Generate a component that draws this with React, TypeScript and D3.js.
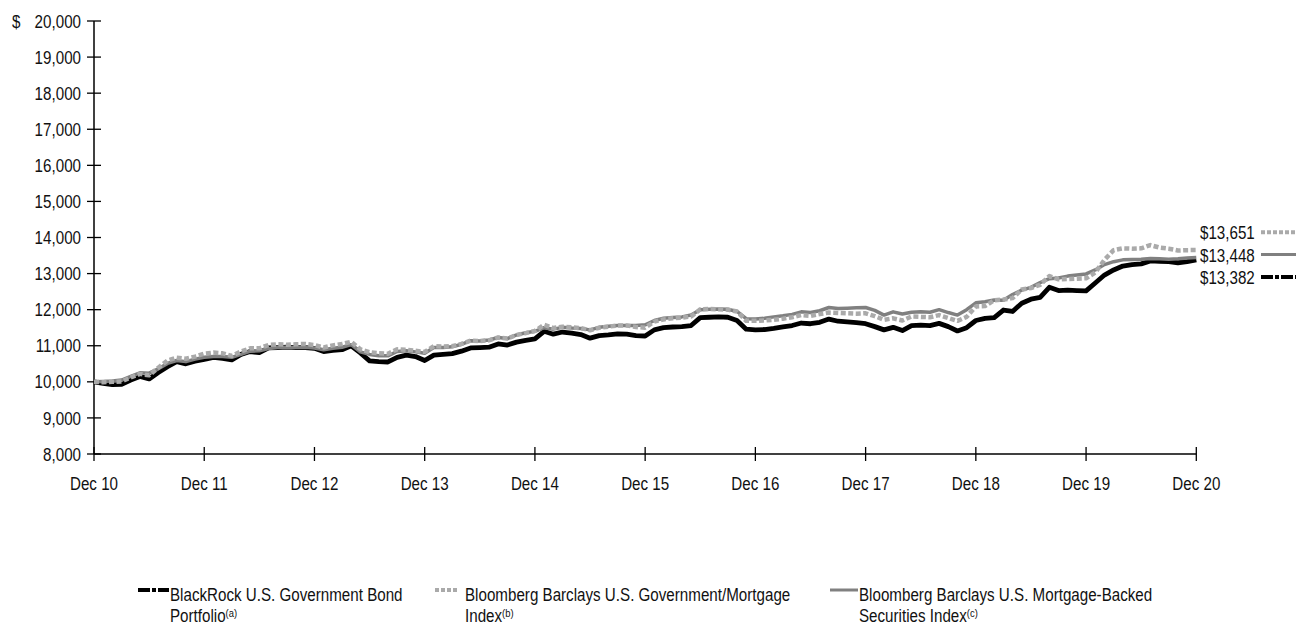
import React from "react";
import * as d3 from "d3";

// Growth of a hypothetical $10,000 investment, month-end values Dec 2010 – Dec 2020
const months: number[] = d3.range(0, 121);
const yearTicks: number[] = [0, 12, 24, 36, 48, 60, 72, 84, 96, 108, 120];
const yearLabels: string[] = ["Dec 10", "Dec 11", "Dec 12", "Dec 13", "Dec 14", "Dec 15", "Dec 16", "Dec 17", "Dec 18", "Dec 19", "Dec 20"];
const valueTicks: number[] = [8000, 9000, 10000, 11000, 12000, 13000, 14000, 15000, 16000, 17000, 18000, 19000, 20000];

const portfolio: number[] = [
  10000, 9960, 9920, 9930, 10050, 10150, 10080, 10260, 10420, 10560, 10500, 10570,
  10620, 10680, 10650, 10610, 10760, 10840, 10810, 10940, 10950, 10960, 10950, 10950,
  10930, 10840, 10870, 10890, 11000, 10800, 10580, 10560, 10550, 10680, 10740, 10700,
  10590, 10740, 10760, 10780, 10850, 10940, 10950, 10960, 11050, 11020, 11100, 11150,
  11190, 11400, 11320, 11380, 11350, 11310, 11210, 11280, 11300, 11330, 11320, 11280,
  11270, 11440, 11500, 11520, 11530, 11560, 11780, 11790, 11800, 11790, 11700, 11460,
  11440, 11450, 11480, 11520, 11560, 11630, 11610, 11650, 11740, 11680, 11660, 11640,
  11610, 11530, 11440, 11510, 11420, 11560, 11570, 11560, 11620, 11530, 11410, 11500,
  11700, 11760, 11780, 11990, 11950, 12180, 12290, 12340, 12620, 12530, 12540, 12530,
  12520, 12740, 12960, 13100, 13210, 13250, 13270, 13350, 13340, 13330, 13300, 13330,
  13382,
];

const govMortgage: number[] = [
  10000, 9990, 10000, 10010, 10120, 10220, 10180, 10390, 10590, 10670, 10640, 10700,
  10780, 10810, 10790, 10720, 10840, 10930, 10930, 11020, 11040, 11030, 11040, 11050,
  11020, 10950, 11010, 11050, 11110, 10900, 10820, 10790, 10780, 10900, 10890, 10860,
  10830, 10990, 10980, 10990, 11050, 11140, 11130, 11150, 11230, 11200, 11300, 11350,
  11410, 11580, 11490, 11530, 11510, 11490, 11430, 11500, 11530, 11560, 11560, 11520,
  11500, 11670, 11730, 11760, 11780, 11810, 12010, 12020, 12010, 12000, 11950, 11690,
  11690, 11700, 11720, 11750, 11790, 11850, 11830, 11880, 11920, 11910, 11900, 11890,
  11900, 11820, 11720, 11760, 11700, 11810, 11800, 11790, 11850, 11770, 11690, 11800,
  12090, 12100, 12260, 12280, 12320, 12560, 12600, 12690, 12930, 12840, 12850, 12860,
  12870, 13030, 13380, 13650, 13700, 13690, 13700, 13790, 13720, 13690, 13640, 13650,
  13651,
];

const mortgageBacked: number[] = [
  10000, 10010, 10020, 10050, 10150, 10250, 10240, 10360, 10510, 10590, 10560, 10630,
  10680, 10700, 10700, 10680, 10760, 10850, 10860, 10920, 10950, 10960, 10950, 10960,
  10940, 10890, 10930, 10960, 11030, 10830, 10760, 10720, 10720, 10840, 10860, 10830,
  10790, 10950, 10950, 10970, 11040, 11140, 11130, 11160, 11230, 11200, 11300, 11360,
  11400, 11500, 11460, 11510, 11490, 11480, 11440, 11510, 11540, 11560, 11560, 11560,
  11580, 11700, 11760, 11780, 11800, 11850, 12000, 12010, 12020, 12010, 11950, 11750,
  11740, 11760, 11800, 11830, 11870, 11940, 11920, 11970, 12060, 12030, 12040, 12050,
  12060, 11980, 11850, 11940, 11880, 11930, 11940, 11930, 12000, 11920, 11850, 12000,
  12190, 12220, 12270, 12260, 12420, 12540, 12620, 12750, 12860, 12880, 12930, 12960,
  12990, 13100, 13250, 13330, 13380, 13390, 13400, 13420, 13410, 13400, 13410, 13430,
  13448,
];

const endLabels: string[] = ["$13,651", "$13,448", "$13,382"];
const legendNames: string[][] = [
  ["BlackRock U.S. Government Bond", "Portfolio", "(a)"],
  ["Bloomberg Barclays U.S. Government/Mortgage", "Index", "(b)"],
  ["Bloomberg Barclays U.S. Mortgage-Backed", "Securities Index", "(c)"],
];

const FONT = "'Liberation Sans', Arial, sans-serif";
const FS = 18.5;
const NARROW = 0.82; // condensed glyph width

const BLACK = "#000000";
const TEXT = "#111111";
const MID_GRAY = "#808080";
const LIGHT_GRAY = "#aaaaaa";

// Condensed text drawn with a horizontal scale around its anchor point
function T(props: { x: number; y: number; anchor?: string; children: React.ReactNode }) {
  return (
    <text
      transform={`translate(${props.x},${props.y}) scale(${NARROW},1)`}
      textAnchor={props.anchor ?? "start"}
      fill={TEXT}
    >
      {props.children}
    </text>
  );
}

export default function App() {
  const W = 1296;
  const H = 627;
  const x = d3.scaleLinear().domain([0, 120]).range([94, 1196.3]);
  const y = d3.scaleLinear().domain([8000, 20000]).range([454, 21]);

  const line = d3
    .line<number>()
    .x((_, i) => x(months[i]))
    .y((v) => y(v));

  const seriesStyle = [
    { data: portfolio, stroke: BLACK, width: 4.8, dash: undefined as string | undefined },
    { data: mortgageBacked, stroke: MID_GRAY, width: 3.5, dash: undefined as string | undefined },
    { data: govMortgage, stroke: LIGHT_GRAY, width: 4.5, dash: "5,2.5" },
  ];

  // Right-hand value labels, ordered top to bottom
  const endRows = [
    { text: endLabels[0], baseline: 239, swY: 232.3, kind: "dot" },
    { text: endLabels[1], baseline: 262, swY: 254.6, kind: "solid" },
    { text: endLabels[2], baseline: 283.5, swY: 277, kind: "black" },
  ];

  const swatch = (kind: string, x0: number, x1: number, yy: number, key: string) => {
    if (kind === "black")
      return <line key={key} x1={x0} x2={x1} y1={yy} y2={yy} stroke={BLACK} strokeWidth={4} strokeDasharray="12,2,4,2" />;
    if (kind === "dot")
      return <line key={key} x1={x0} x2={x1} y1={yy} y2={yy} stroke={LIGHT_GRAY} strokeWidth={4} strokeDasharray="4,2" />;
    return <line key={key} x1={x0} x2={x1} y1={yy} y2={yy} stroke={MID_GRAY} strokeWidth={3} />;
  };

  const legendItems = [
    { kind: "black", sx0: 138, sx1: 169, tx: 170, names: legendNames[0] },
    { kind: "dot", sx0: 435, sx1: 459, tx: 465, names: legendNames[1] },
    { kind: "solid", sx0: 830, sx1: 858, tx: 859, names: legendNames[2] },
  ];

  const legendTop = 601;
  const legendSecond = 622;

  return (
    <svg
      width={W}
      height={H}
      style={{ position: "absolute", left: 0, top: 0, background: "#ffffff" }}
      fontFamily={FONT}
      fontSize={FS}
    >
      {/* y axis */}
      <line x1={94} x2={94} y1={y(20000)} y2={y(8000)} stroke={BLACK} strokeWidth={1.5} />
      {valueTicks.map((v) => (
        <g key={v}>
          <line x1={87} x2={101} y1={y(v)} y2={y(v)} stroke={BLACK} strokeWidth={1.3} />
          <T x={81} y={y(v) + 6.6} anchor="end">
            {d3.format(",")(v)}
          </T>
        </g>
      ))}
      <T x={12} y={y(20000) + 6.6}>$</T>

      {/* x axis */}
      <line x1={94} x2={1196.3} y1={454} y2={454} stroke={BLACK} strokeWidth={1.5} />
      {yearTicks.map((m, i) => (
        <g key={m}>
          <line x1={x(m)} x2={x(m)} y1={447} y2={461} stroke={BLACK} strokeWidth={1.3} />
          <T x={x(m)} y={490} anchor="middle">
            {yearLabels[i]}
          </T>
        </g>
      ))}

      {/* series */}
      {seriesStyle.map((s, i) => (
        <path
          key={i}
          d={line(s.data) ?? ""}
          fill="none"
          stroke={s.stroke}
          strokeWidth={s.width}
          strokeDasharray={s.dash}
          strokeLinejoin="round"
        />
      ))}

      {/* ending values */}
      {endRows.map((r, i) => (
        <g key={i}>
          <T x={1200} y={r.baseline}>{r.text}</T>
          {swatch(r.kind, 1261, 1296, r.swY, "s" + i)}
        </g>
      ))}

      {/* legend */}
      {legendItems.map((it, i) => (
        <g key={i}>
          {swatch(it.kind, it.sx0, it.sx1, legendTop - 11, "l" + i)}
          <T x={it.tx} y={legendTop}>{it.names[0]}</T>
          <T x={it.tx} y={legendSecond}>
            {it.names[1]}
            <tspan fontSize={11.5} dy={-5.5}>{it.names[2]}</tspan>
          </T>
        </g>
      ))}
    </svg>
  );
}
